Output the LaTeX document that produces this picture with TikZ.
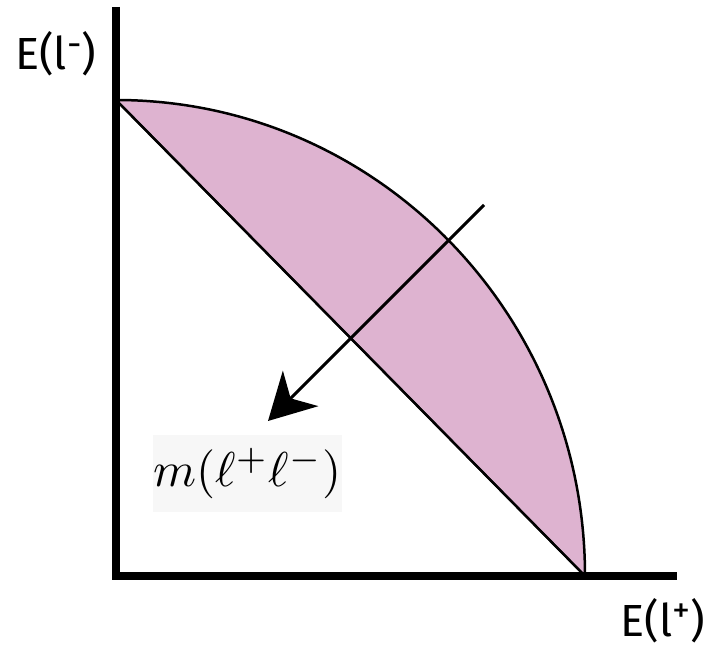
\documentclass[tikz,border=0pt]{standalone}
\usepackage{fontspec}
\setmainfont{Fira Sans}
\usepackage{xcolor}
\usepackage{graphicx}
\usetikzlibrary{arrows.meta}
\definecolor{lobe}{HTML}{DEB3D0}
\definecolor{tagbg}{HTML}{F7F7F7}
\newcommand\upmark[1]{\raisebox{0.3em}{\fontsize{36}{36}\selectfont #1}}

\begin{document}
\begin{tikzpicture}[x=1pt, y=-1pt,
    axislab/.style={inner sep=0pt, font=\fontsize{45}{50}\selectfont},
    masslab/.style={fill=tagbg, inner sep=0pt, minimum width=189pt, minimum height=77pt, font=\fontsize{10}{12}\selectfont}]
    \useasboundingbox (0,0) rectangle (709,647);
    % allowed region
    \filldraw[fill=lobe, draw=black, line width=2.5pt] (116,100) arc[start angle=-90, end angle=0, x radius=469, y radius=476] -- cycle;
    \draw[line width=2pt] (116,100) -- (585,576);
    % axes
    \draw[line width=8pt] (116,7) -- (116,576) -- (677,576);
    \node (ylab) [axislab, anchor=base west] at (15,70) {E(l\upmark{-})};
    \node (xlab) [axislab, anchor=base east] at (705,636) {E(l\upmark{+})};
    % mass direction
    \node (mass) [masslab] at (247.5,473.5) {\scalebox{4.9}{$m(\ell^+\ell^-)$}};
    \coordinate (tail) at (484,205);
    \coordinate (head) at (268,421);
    \draw[line width=3pt, -{Stealth[length=46pt, width=50pt, inset=14pt]}] (tail) -- (head);
\end{tikzpicture}
\end{document}
